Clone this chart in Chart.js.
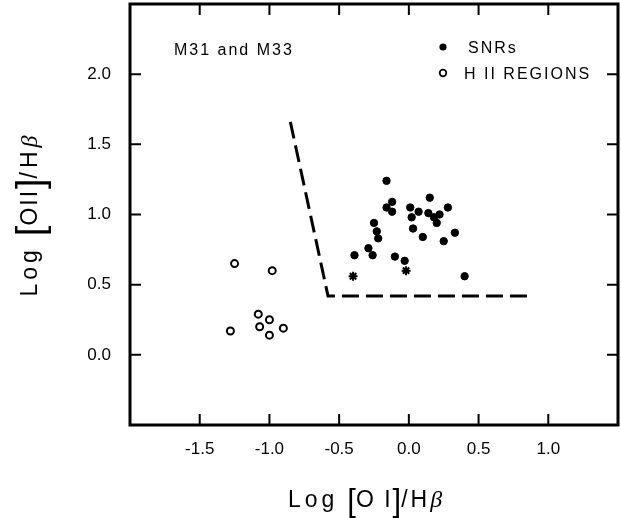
<!DOCTYPE html>
<html>
<head>
<meta charset="utf-8">
<script src="https://cdn.jsdelivr.net/npm/chart.js@4.4.1/dist/chart.umd.min.js"></script>
<style>
html, body { margin: 0; padding: 0; background: #fff; }
canvas { display: block; }
</style>
</head>
<body>
<canvas id="myChart" width="621" height="518"></canvas>
<script>
// SNRs (filled circles)
var snrX = [-0.16, -0.12, -0.16, -0.12, 0.01, 0.07, 0.15, 0.14, 0.22, 0.28, 0.18, 0.20, 0.02,
            -0.25, -0.23, -0.22, 0.03, 0.10, 0.33, 0.25, -0.29, -0.26, -0.39, -0.10, -0.03, 0.40];
var snrY = [1.24, 1.09, 1.05, 1.02, 1.05, 1.02, 1.12, 1.01, 1.00, 1.05, 0.98, 0.94, 0.98,
            0.94, 0.88, 0.83, 0.90, 0.84, 0.87, 0.81, 0.76, 0.71, 0.71, 0.70, 0.67, 0.56];
// asterisks
var starX = [-0.40, -0.02];
var starY = [0.56, 0.60];
// H II regions (open circles)
var hiiX = [-1.25, -0.98, -1.08, -1.00, -1.07, -0.90, -1.28, -1.00];
var hiiY = [0.65, 0.60, 0.29, 0.25, 0.20, 0.19, 0.17, 0.14];
// dashed dividing line
var boundaryX = [-0.85, -0.58, 0.85];
var boundaryY = [1.66, 0.42, 0.42];
// tick labels
var xTicks = [-1.5, -1.0, -0.5, 0.0, 0.5, 1.0];
var yTicks = [0.0, 0.5, 1.0, 1.5, 2.0];

function pts(xs, ys) {
    return xs.map(function (x, i) { return { x: x, y: ys[i] }; });
}

var FONT = "'Liberation Sans', Arial, sans-serif";

// draw a run of text pieces centred on cx
function drawPieces(ctx, parts, cx, base) {
    var total = 0;
    parts.forEach(function (p) {
        ctx.font = p.font;
        ctx.letterSpacing = p.ls || '0px';
        p.w = ctx.measureText(p.t).width + (p.gap || 0);
        total += p.w;
    });
    var x = cx - total / 2;
    parts.forEach(function (p) {
        ctx.font = p.font;
        ctx.letterSpacing = p.ls || '0px';
        ctx.fillText(p.t, x, base + (p.dy || 0));
        x += p.w;
    });
    ctx.letterSpacing = '0px';
}

var framePlugin = {
    id: 'frame',
    afterDraw: function (chart) {
        var ctx = chart.ctx;
        var a = chart.chartArea;
        var xs = chart.scales.x, ys = chart.scales.y;
        ctx.save();
        ctx.strokeStyle = '#000';
        ctx.fillStyle = '#000';
        // frame
        ctx.lineWidth = 3;
        ctx.strokeRect(a.left, a.top, a.right - a.left, a.bottom - a.top);
        // inward ticks
        ctx.lineWidth = 2;
        ctx.beginPath();
        xTicks.forEach(function (v) {
            var px = xs.getPixelForValue(v);
            ctx.moveTo(px, a.bottom); ctx.lineTo(px, a.bottom - 11);
            ctx.moveTo(px, a.top); ctx.lineTo(px, a.top + 11);
        });
        yTicks.forEach(function (v) {
            var py = ys.getPixelForValue(v);
            ctx.moveTo(a.left, py); ctx.lineTo(a.left + 11, py);
            ctx.moveTo(a.right, py); ctx.lineTo(a.right - 11, py);
        });
        ctx.stroke();

        // legend / label
        ctx.textBaseline = 'alphabetic';
        ctx.textAlign = 'left';
        ctx.font = '16px ' + FONT;
        ctx.letterSpacing = '2px';
        ctx.fillText('M31 and M33', 174, 55);
        ctx.fillText('SNRs', 468, 53);
        ctx.fillText('H II REGIONS', 464, 79);
        ctx.letterSpacing = '0px';
        ctx.beginPath();
        ctx.arc(443, 47, 3.6, 0, Math.PI * 2);
        ctx.fill();
        ctx.beginPath();
        ctx.lineWidth = 1.8;
        ctx.arc(443, 73, 3.3, 0, Math.PI * 2);
        ctx.stroke();

        // axis titles
        var txt = '23px ' + FONT;
        var beta = 'italic 24px "Liberation Serif", serif';
        drawPieces(ctx, [
            { t: 'Log', font: txt, ls: '4px', gap: 9 },
            { t: '[', font: '31px ' + FONT, dy: 4 },
            { t: 'O I', font: txt, ls: '2px' },
            { t: ']', font: '31px ' + FONT, dy: 4 },
            { t: '/H', font: txt, ls: '3px' },
            { t: '\u03B2', font: beta }
        ], 365, 507);

        ctx.translate(37, 216);
        ctx.rotate(-Math.PI / 2);
        drawPieces(ctx, [
            { t: 'Log', font: txt, ls: '4px', gap: 10 },
            { t: '[', font: '38px ' + FONT, dy: 6 },
            { t: 'OII', font: txt, ls: '2px' },
            { t: ']', font: '38px ' + FONT, dy: 6 },
            { t: '/H', font: txt, ls: '4px' },
            { t: '\u03B2', font: beta }
        ], 0, 0);
        ctx.restore();
    }
};

var ctx = document.getElementById('myChart').getContext('2d');
var chart = new Chart(ctx, {
    type: 'scatter',
    data: {
        datasets: [{
            label: 'SNRs',
            data: pts(snrX, snrY),
            pointStyle: 'circle',
            pointRadius: 3.7,
            pointBorderWidth: 1,
            backgroundColor: '#000',
            borderColor: '#000'
        }, {
            label: 'SNRs (asterisk)',
            data: pts(starX, starY),
            pointStyle: 'star',
            pointRadius: 4.5,
            pointBorderWidth: 2,
            backgroundColor: '#000',
            borderColor: '#000'
        }, {
            label: 'H II REGIONS',
            data: pts(hiiX, hiiY),
            pointStyle: 'circle',
            pointRadius: 3.5,
            pointBorderWidth: 2,
            backgroundColor: '#fff',
            borderColor: '#000'
        }, {
            label: 'boundary',
            type: 'line',
            data: pts(boundaryX, boundaryY),
            showLine: true,
            borderColor: '#000',
            borderWidth: 3,
            borderDash: [17, 7],
            pointRadius: 0,
            fill: false,
            tension: 0
        }]
    },
    options: {
        responsive: false,
        animation: false,
        events: [],
        layout: { autoPadding: false, padding: { top: 4, right: 3, left: 0, bottom: 0 } },
        plugins: {
            legend: { display: false },
            tooltip: { enabled: false }
        },
        scales: {
            x: {
                type: 'linear',
                min: -2.0,
                max: 1.5,
                grid: { display: false, drawTicks: false },
                border: { display: false },
                afterFit: function (scale) {
                    scale.height = 93;
                    scale.paddingLeft = 0;
                    scale.paddingRight = 0;
                },
                afterBuildTicks: function (scale) {
                    scale.ticks = xTicks.map(function (v) { return { value: v }; });
                },
                ticks: {
                    padding: 14,
                    color: '#000',
                    font: { family: FONT, size: 17 },
                    callback: function (v) { return Number(v).toFixed(1); }
                }
            },
            y: {
                type: 'linear',
                min: -0.5,
                max: 2.5,
                grid: { display: false, drawTicks: false },
                border: { display: false },
                afterFit: function (scale) {
                    scale.width = 130;
                    scale.paddingTop = 0;
                    scale.paddingBottom = 0;
                },
                afterBuildTicks: function (scale) {
                    scale.ticks = yTicks.map(function (v) { return { value: v }; });
                },
                ticks: {
                    padding: 19,
                    color: '#000',
                    font: { family: FONT, size: 17 },
                    callback: function (v) { return Number(v).toFixed(1); }
                }
            }
        }
    },
    plugins: [framePlugin]
});
</script>
</body>
</html>
